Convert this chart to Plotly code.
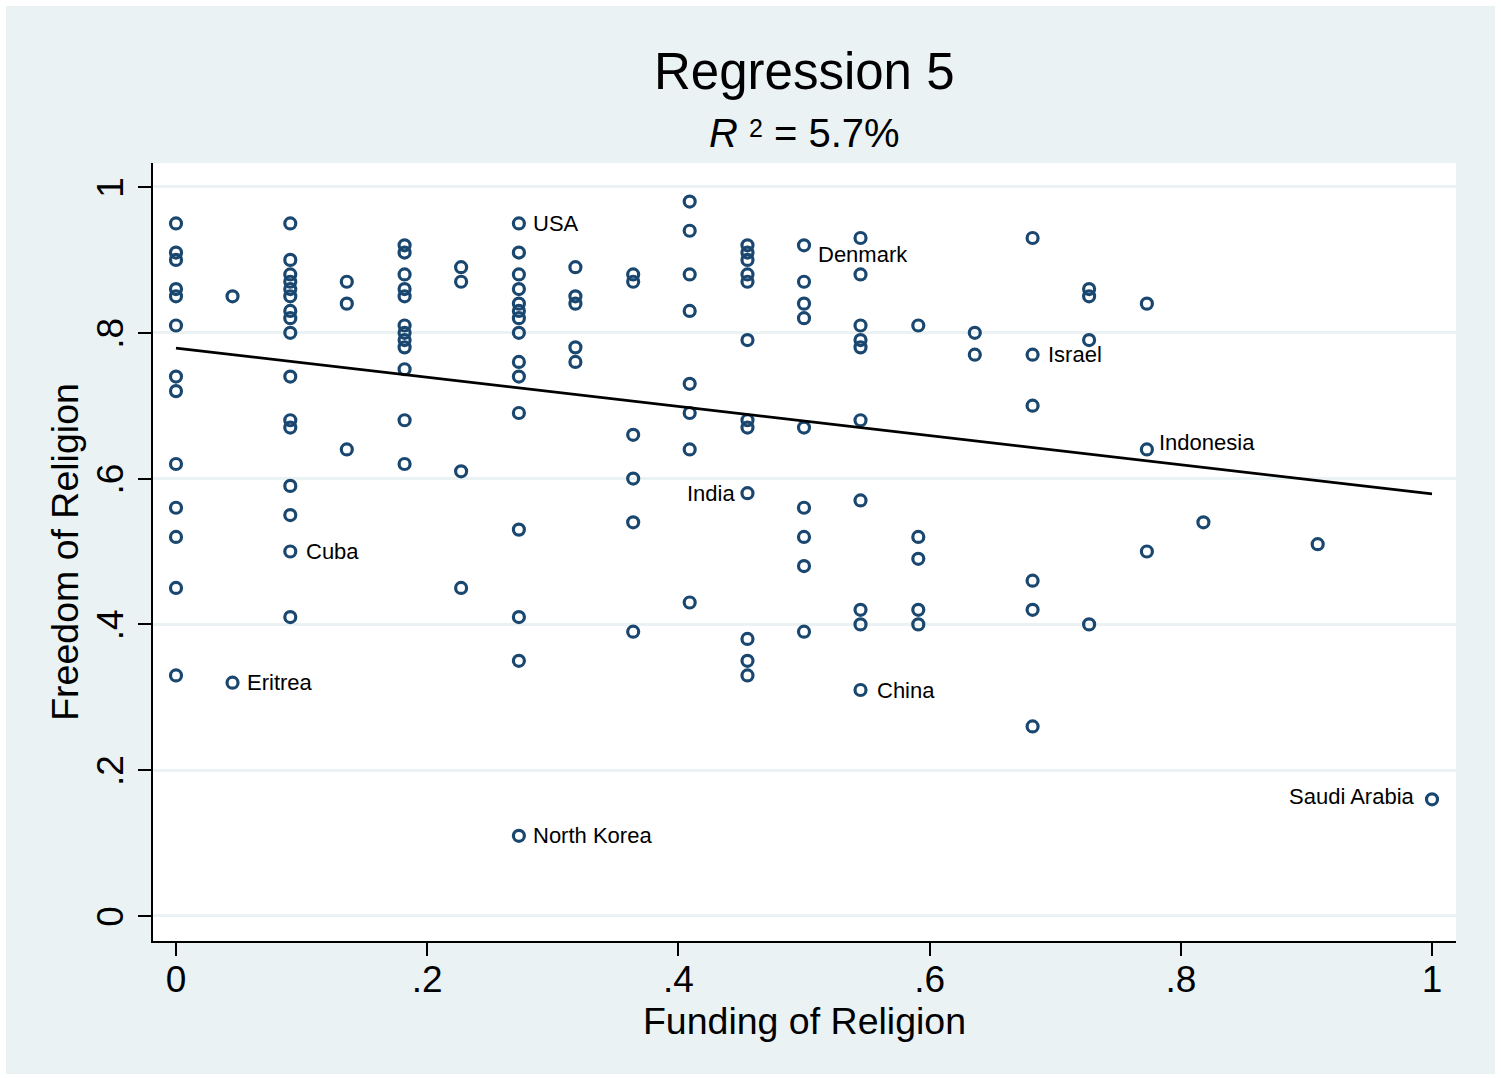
import plotly.graph_objects as go

# Funding of religion (x) and freedom of religion (y), one entry per country
funding = (
    [0.0] * 13
    + [0.045] * 2
    + [0.091] * 16
    + [0.136] * 3
    + [0.182] * 12
    + [0.227] * 4
    + [0.273] * 15
    + [0.318] * 5
    + [0.364] * 6
    + [0.409] * 8
    + [0.455] * 12
    + [0.5] * 9
    + [0.545] * 10
    + [0.591] * 5
    + [0.636] * 2
    + [0.682] * 6
    + [0.727] * 4
    + [0.773] * 3
    + [0.818] * 1
    + [0.909] * 1
    + [1.0] * 1
)

freedom = (
    [0.95, 0.91, 0.90, 0.86, 0.85, 0.81, 0.74, 0.72, 0.62, 0.56, 0.52, 0.45, 0.33]
    + [0.85, 0.32]
    + [0.95, 0.90, 0.88, 0.87, 0.86, 0.85, 0.83, 0.82, 0.80, 0.74, 0.68, 0.67, 0.59, 0.55, 0.50, 0.41]
    + [0.87, 0.84, 0.64]
    + [0.92, 0.91, 0.88, 0.86, 0.85, 0.81, 0.80, 0.79, 0.78, 0.75, 0.68, 0.62]
    + [0.89, 0.87, 0.61, 0.45]
    + [0.95, 0.91, 0.88, 0.86, 0.84, 0.83, 0.82, 0.80, 0.76, 0.74, 0.69, 0.53, 0.41, 0.35, 0.11]
    + [0.89, 0.85, 0.84, 0.78, 0.76]
    + [0.88, 0.87, 0.66, 0.60, 0.54, 0.39]
    + [0.98, 0.94, 0.88, 0.83, 0.73, 0.69, 0.64, 0.43]
    + [0.92, 0.91, 0.90, 0.88, 0.87, 0.79, 0.68, 0.67, 0.58, 0.38, 0.35, 0.33]
    + [0.92, 0.87, 0.84, 0.82, 0.67, 0.56, 0.52, 0.48, 0.39]
    + [0.93, 0.88, 0.81, 0.79, 0.78, 0.68, 0.57, 0.42, 0.40, 0.31]
    + [0.81, 0.52, 0.49, 0.42, 0.40]
    + [0.80, 0.77]
    + [0.93, 0.77, 0.70, 0.46, 0.42, 0.26]
    + [0.86, 0.85, 0.79, 0.40]
    + [0.84, 0.64, 0.50]
    + [0.54]
    + [0.51]
    + [0.16]
)

# Named countries
label_names = ["USA", "Denmark", "Israel", "Indonesia", "India", "Cuba",
               "Eritrea", "China", "North Korea", "Saudi Arabia"]
label_funding = [0.273, 0.5, 0.682, 0.773, 0.455, 0.091, 0.045, 0.545, 0.273, 1.0]
label_freedom = [0.95, 0.92, 0.77, 0.64, 0.58, 0.50, 0.32, 0.31, 0.11, 0.16]

# Fitted regression line (endpoints)
fit_funding = [0.0, 1.0]
fit_freedom = [0.779, 0.579]

tick_vals = [0, 0.2, 0.4, 0.6, 0.8, 1]
tick_text = ["0", ".2", ".4", ".6", ".8", "1"]

title_text = "Regression 5"
subtitle_text = ("<i>R</i> <span style='font-size:25px;baseline-shift:10px'>2</span>"
                 " = 5.7%")
x_title = "Funding of Religion"
y_title = "Freedom of Religion"

FONT = "Liberation Sans, Arial, Helvetica, sans-serif"
NAVY = "#1A476F"
BG = "#EAF2F3"

# label placement: (side, xshift, yshift)
placement = {
    "USA": ("left", 12, 0),
    "Denmark": ("left", 12, -9),
    "Israel": ("left", 13, 0),
    "Indonesia": ("left", 10, 7),
    "India": ("right", -10, 0),
    "Cuba": ("left", 14, 0),
    "Eritrea": ("left", 12, 0),
    "China": ("left", 14, 0),
    "North Korea": ("left", 12, 0),
    "Saudi Arabia": ("right", -15, 3),
}

fig = go.Figure()

fig.add_trace(go.Scatter(
    x=funding, y=freedom, mode="markers",
    marker=dict(symbol="circle-open", size=11, color=NAVY,
                line=dict(width=3.2, color=NAVY)),
    showlegend=False, hoverinfo="skip",
))

fig.add_trace(go.Scatter(
    x=fit_funding, y=fit_freedom, mode="lines",
    line=dict(color="black", width=2.6),
    showlegend=False, hoverinfo="skip",
))

annotations = []
for name, xv, yv in zip(label_names, label_funding, label_freedom):
    side, dx, dy = placement[name]
    annotations.append(dict(
        x=xv, y=yv, xref="x", yref="y", text=name, showarrow=False,
        xanchor=side, yanchor="middle", xshift=dx, yshift=dy,
        font=dict(family=FONT, size=22, color="black"),
    ))

annotations.append(dict(
    x=0.5, y=1.117, xref="paper", yref="paper", text=title_text,
    showarrow=False, xanchor="center", yanchor="middle",
    font=dict(family=FONT, size=51, color="black"),
))
annotations.append(dict(
    x=0.5, y=1.0386, xref="paper", yref="paper", text=subtitle_text,
    showarrow=False, xanchor="center", yanchor="middle",
    font=dict(family=FONT, size=40, color="black"),
))

# plot geometry in pixels
W, H = 1501, 1078
ml, mr, mt, mb = 153, 45, 163, 137
pw = W - ml - mr
ph = H - mt - mb

def px_x(p):
    return (p - ml) / pw

def px_y(p):
    return (H - mb - p) / ph

shapes = [
    # graph region (tinted) inside a thin white frame
    dict(type="rect", xref="paper", yref="paper", layer="below",
         x0=px_x(6), x1=px_x(1495), y0=px_y(1074), y1=px_y(6),
         fillcolor=BG, line=dict(width=0)),
    # plot region
    dict(type="rect", xref="paper", yref="paper", layer="below",
         x0=0, x1=1, y0=0, y1=1, fillcolor="white", line=dict(width=0)),
]

fig.update_layout(
    width=W, height=H,
    margin=dict(l=ml, r=mr, t=mt, b=mb, pad=0),
    paper_bgcolor="white",
    plot_bgcolor="white",
    font=dict(family=FONT, color="black"),
    annotations=annotations,
    shapes=shapes,
    showlegend=False,
)

fig.update_xaxes(
    range=[-0.01831, 1.01911],
    tickvals=tick_vals, ticktext=tick_text,
    tickfont=dict(family=FONT, size=37, color="black"),
    ticks="outside", ticklen=13, tickwidth=2, tickcolor="black",
    ticklabelstandoff=-8,
    showline=True, linecolor="black", linewidth=2,
    showgrid=False, zeroline=False,
    title=dict(text=x_title, font=dict(family=FONT, size=37.5, color="black"),
               standoff=0),
)

fig.update_yaxes(
    range=[-0.0343, 1.0329],
    tickvals=tick_vals, ticktext=tick_text, tickangle=-90,
    tickfont=dict(family=FONT, size=37, color="black"),
    ticks="outside", ticklen=13, tickwidth=2, tickcolor="black",
    ticklabelshift=6,
    showline=True, linecolor="black", linewidth=2,
    showgrid=True, gridcolor=BG, gridwidth=2.5,
    zeroline=False,
    title=dict(text=y_title, font=dict(family=FONT, size=37.5, color="black"),
               standoff=0),
)

fig.write_html("out.html")
